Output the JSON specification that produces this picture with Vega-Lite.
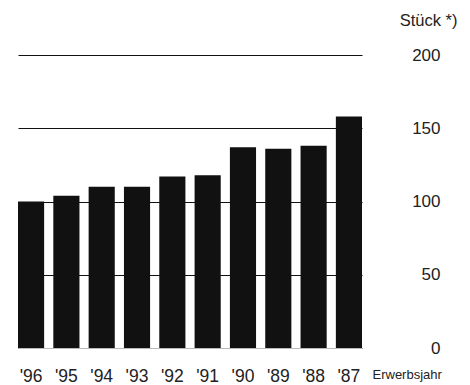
{
  "$schema": "https://vega.github.io/schema/vega-lite/v6.json",
  "autosize": "none",
  "width": 344,
  "height": 293,
  "padding": {"left": 18, "top": 55, "right": 108, "bottom": 37},
  "background": "white",
  "data": {
    "values": [
      {"jahr": "'96", "stueck": 100},
      {"jahr": "'95", "stueck": 104},
      {"jahr": "'94", "stueck": 110},
      {"jahr": "'93", "stueck": 110},
      {"jahr": "'92", "stueck": 117},
      {"jahr": "'91", "stueck": 118},
      {"jahr": "'90", "stueck": 137},
      {"jahr": "'89", "stueck": 136},
      {"jahr": "'88", "stueck": 138},
      {"jahr": "'87", "stueck": 158}
    ]
  },
  "config": {
    "view": {"stroke": null},
    "font": "Liberation Sans, Arial, sans-serif"
  },
  "mark": {"type": "bar", "fill": "#111111"},
  "encoding": {
    "x": {
      "field": "jahr",
      "type": "nominal",
      "sort": null,
      "scale": {"paddingInner": 0.26, "paddingOuter": 0},
      "axis": {
        "title": "Erwerbsjahr",
        "titleFontSize": 13,
        "titleFontWeight": "normal",
        "titleColor": "#222222",
        "titleAnchor": "start",
        "titleAlign": "left",
        "titleBaseline": "alphabetic",
        "titleX": 354,
        "titleY": 30,
        "labelAngle": 0,
        "labelFontSize": 17.5,
        "labelColor": "#222222",
        "labelPadding": 33,
        "labelBaseline": "alphabetic",
        "ticks": false,
        "domain": true,
        "domainColor": "#bbbbbb",
        "domainWidth": 1
      }
    },
    "y": {
      "field": "stueck",
      "type": "quantitative",
      "scale": {"domain": [0, 200], "nice": false},
      "axis": {
        "orient": "right",
        "values": [0, 50, 100, 150, 200],
        "title": "Stück *)",
        "titleAngle": 0,
        "titleFontSize": 16.5,
        "titleFontWeight": "normal",
        "titleColor": "#222222",
        "titleAlign": "right",
        "titleBaseline": "alphabetic",
        "titleX": 95,
        "titleY": -30,
        "labelAlign": "right",
        "labelBaseline": "middle",
        "labelFontSize": 17,
        "labelColor": "#222222",
        "labelPadding": 78,
        "ticks": false,
        "tickSize": 0,
        "domain": false,
        "grid": true,
        "gridColor": "#111111",
        "gridWidth": 1,
        "gridOpacity": 1
      }
    }
  }
}
